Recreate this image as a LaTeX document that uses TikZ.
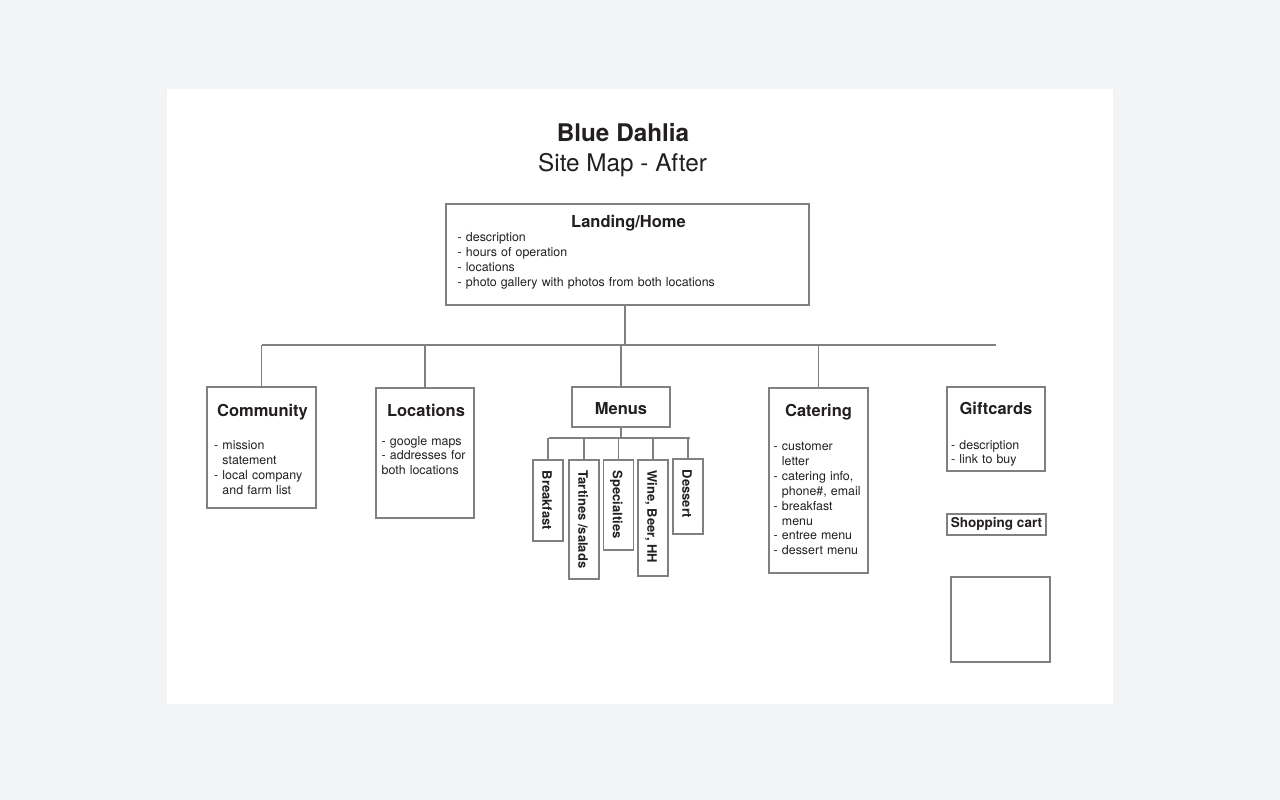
\documentclass[tikz,border=0pt]{standalone}
\usepackage{fontspec}
\setmainfont{TeX Gyre Heros}
\definecolor{linegray}{RGB}{128,128,128}
\definecolor{inkblack}{RGB}{35,31,32}
\definecolor{pagegray}{RGB}{243,244,246}
\begin{document}
\begin{tikzpicture}[x=1pt,y=-1pt,box/.style={draw=linegray, line width=1.5pt, inner sep=0pt, fill=white},title/.style={anchor=base, inner sep=0pt, text=inkblack, font=\fontsize{16.5}{19}\selectfont\bfseries},items/.style={anchor=base west, inner sep=0pt, text=inkblack, align=left, text width=300pt, font=\fontsize{12.4}{14.9}\selectfont},sub/.style={rotate=-90, anchor=west, inner sep=0pt, text=inkblack, text height=9.4pt, text depth=0pt, font=\fontsize{13}{15}\selectfont\bfseries},link/.style={draw=linegray, line width=1.5pt}]
\useasboundingbox (0,0) rectangle (1280,800);
\fill[pagegray] (0,0) rectangle (1280,800);
\fill[white] (167,89) rectangle (1113,704);

\node[title] [font=\fontsize{24.3}{28}\selectfont\bfseries] at (623,141) (name) {Blue Dahlia};
\node[title] [font=\fontsize{24.3}{28}\selectfont] at (622.5,171) (subtitle) {Site Map - After};

\node[box] [minimum width=363, minimum height=101] at (627.5,254.5) (home) {};
\node[title] at (628.5,227.3) (homeT) {Landing/Home};
\node[items] at (457.5,241.5) (homeL) {- description\\- hours of operation\\- locations\\- photo gallery with photos from both locations};

\node[box] [minimum width=109, minimum height=121] at (261.5,447.5) (comm) {};
\node[title] at (262.5,416) (commT) {Community};
\node[items] at (214,449.5) (commL) {- mission\\\hphantom{- }statement\\- local company\\\hphantom{- }and farm list};

\node[box] [minimum width=98, minimum height=130] at (425,453) (loc) {};
\node[title] at (426,416.5) (locT) {Locations};
\node[items] at (381.5,445) (locL) {- google maps\\- addresses for\\both locations};

\node[box] [minimum width=98, minimum height=40] at (621,407) (menus) {};
\node[title] at (621,414) (menusT) {Menus};

\node[box] [minimum width=30, minimum height=81] at (548,500.5) (m1) {};
\node[box] [minimum width=30, minimum height=119] at (584,519.5) (m2) {};
\node[box] [minimum width=30, minimum height=90] at (618.5,505) (m3) {};
\node[box] [minimum width=30, minimum height=116] at (653,518) (m4) {};
\node[box] [minimum width=30, minimum height=75] at (688,496.5) (m5) {};
\node[sub] at (547,470.5) (m1T) {Breakfast};
\node[sub] at (583,470.5) (m2T) {Tartines /salads};
\node[sub] at (617.5,470.5) (m3T) {Specialties};
\node[sub] at (652,470.5) (m4T) {Wine, Beer, HH};
\node[sub] at (687,469.5) (m5T) {Dessert};

\node[box] [minimum width=99, minimum height=185] at (818.5,480.5) (cat) {};
\node[title] at (818.5,416) (catT) {Catering};
\node[items] at (773.5,450.5) (catL) {- customer\\\hphantom{- }letter\\- catering info,\\\hphantom{- }phone\#, email\\- breakfast\\\hphantom{- }menu\\- entree menu\\- dessert menu};

\node[box] [minimum width=98, minimum height=84] at (996,429) (gift) {};
\node[title] at (996,414) (giftT) {Giftcards};
\node[items] at (951,449) (giftL) {- description\\- link to buy};

\node[box] [minimum width=99, minimum height=21] at (996.5,524.5) (cart) {};
\node[title] [font=\fontsize{13.5}{16}\selectfont\bfseries] at (996.5,527) (cartT) {Shopping cart};

\node[box] [minimum width=99, minimum height=85] at (1000.5,619.5) (blank) {};

\coordinate (busL) at (262,345);
\coordinate (busR) at (996,345);
\coordinate (mbusL) at (549,438);
\coordinate (mbusR) at (690,438);

	\draw[link] ([xshift=-2.5]home.south) -- ([xshift=-2.5]home.south |- busL);
	\draw[link] (busL) -- (busR);
	\draw[link] (comm.north) -- (comm.north |- busL);
	\draw[link] (loc.north) -- (loc.north |- busL);
	\draw[link] (menus.north) -- (menus.north |- busL);
	\draw[link] (cat.north) -- (cat.north |- busL);

	\draw[link] (menus.south) -- (menus.south |- mbusL);
	\draw[link] (mbusL) -- (mbusR);
	\draw[link] (m1.north) -- (m1.north |- mbusL);
	\draw[link] (m2.north) -- (m2.north |- mbusL);
	\draw[link] (m3.north) -- (m3.north |- mbusL);
	\draw[link] (m4.north) -- (m4.north |- mbusL);
	\draw[link] (m5.north) -- (m5.north |- mbusL);
\end{tikzpicture}
\end{document}
